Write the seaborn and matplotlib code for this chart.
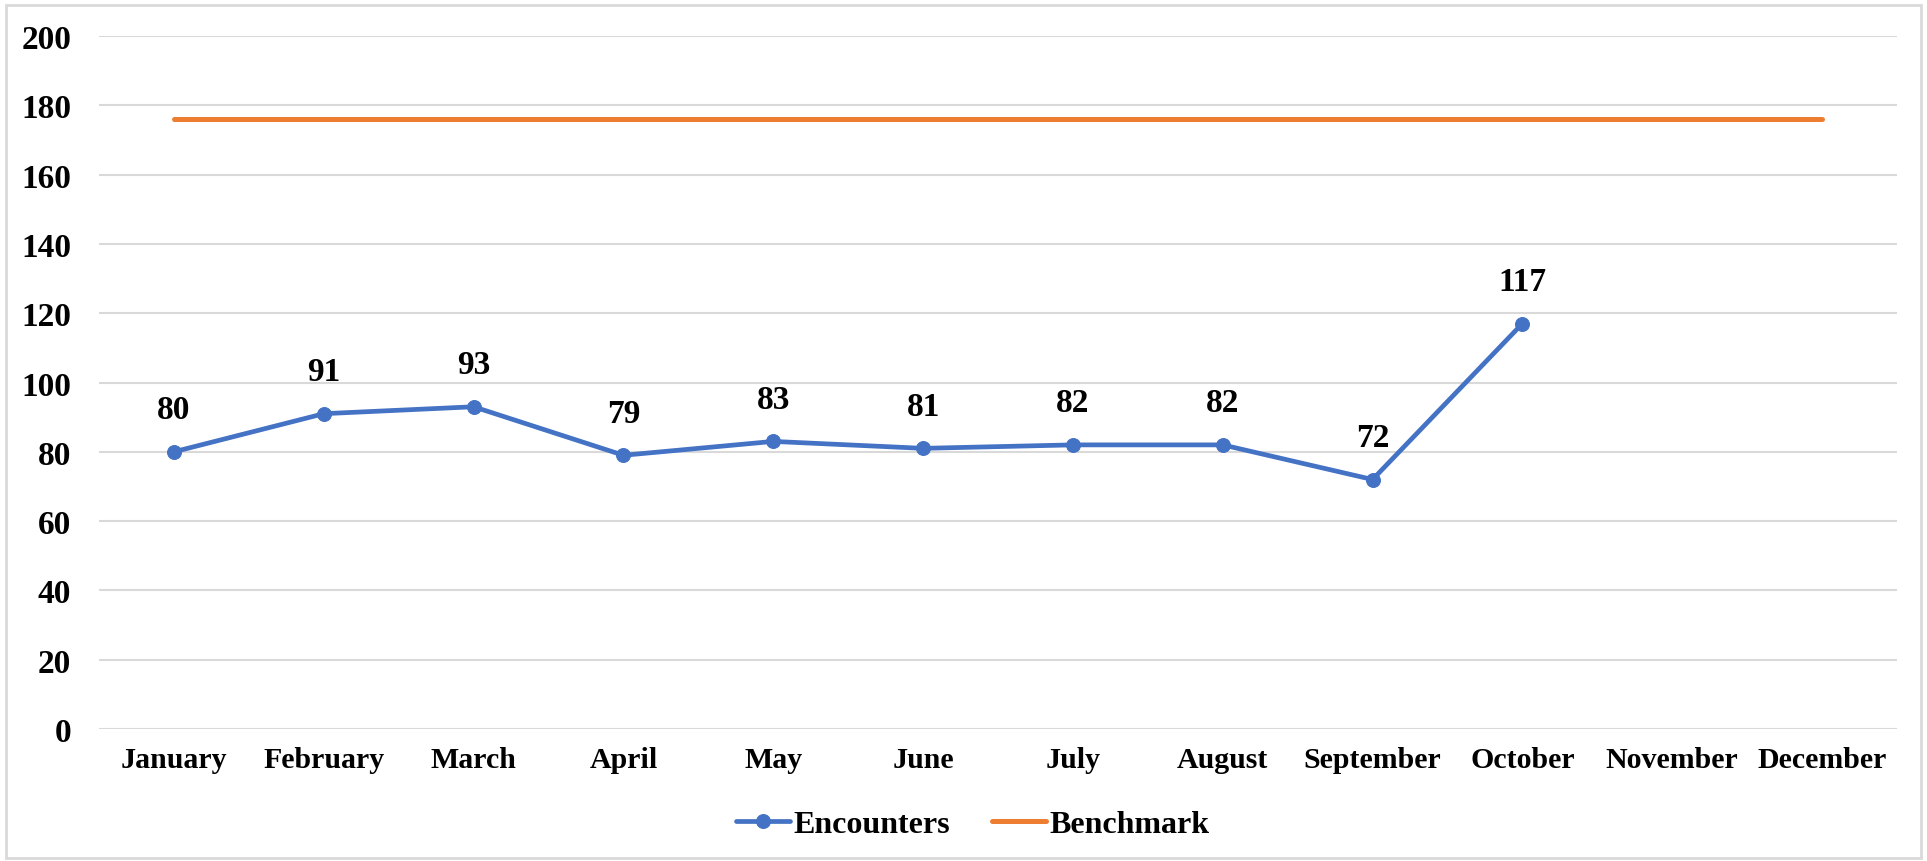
import pandas as pd
import matplotlib.pyplot as plt
import seaborn as sns
from matplotlib.patches import Rectangle

# Chart values
months = ["January", "February", "March", "April", "May", "June",
          "July", "August", "September", "October", "November", "December"]
encounters = [80, 91, 93, 79, 83, 81, 82, 82, 72, 117]
benchmark = [176] * 12

enc_df = pd.DataFrame({"idx": range(len(encounters)), "value": encounters})
bench_df = pd.DataFrame({"idx": range(len(benchmark)), "value": benchmark})

sns.set_style("white")
plt.rcParams['font.family'] = ['Liberation Serif', 'DejaVu Serif']
plt.rcParams['font.weight'] = 'bold'
plt.rcParams['text.color'] = 'black'
plt.rcParams['xtick.color'] = 'black'
plt.rcParams['ytick.color'] = 'black'

fig = plt.figure(figsize=(19.27, 8.62), dpi=100)
ax = fig.add_axes([0.0514, 0.1531, 0.933, 0.804])

blue = "#4472C4"
orange = "#ED7D31"

sns.lineplot(data=enc_df, x="idx", y="value", ax=ax, color=blue, linewidth=3.4,
             marker="o", markersize=10, markeredgecolor=blue, label="Encounters",
             solid_capstyle="round")
sns.lineplot(data=bench_df, x="idx", y="value", ax=ax, color=orange, linewidth=3.6,
             label="Benchmark", solid_capstyle="round")

# Data labels for encounters
for i, v in enumerate(encounters):
    ax.annotate(str(v), (i, v), xytext=(0, 19), textcoords="offset points",
                ha="center", va="bottom", fontsize=24, fontweight="bold")

ax.set_xlim(-0.5, 11.5)
ax.set_ylim(0, 200)
ax.set_yticks(range(0, 201, 20))
ax.set_xticks(range(12))
ax.set_xticklabels(months)
ax.tick_params(axis="x", length=0, labelsize=21.5, pad=12)
ax.tick_params(axis="y", length=0, labelsize=24, pad=20)
ax.set_xlabel("")
ax.set_ylabel("")
ax.grid(axis="y", color="#D9D9D9", linewidth=1.5)
ax.set_axisbelow(True)
for s in ax.spines.values():
    s.set_visible(False)

leg = ax.legend(loc="lower center", bbox_to_anchor=(0.486, -0.2), ncol=2, frameon=False,
                fontsize=23, handlelength=1.7, columnspacing=1.3, handletextpad=0.1)

# light figure border
fig.patches.append(Rectangle((0.003, 0.003), 0.994, 0.99, transform=fig.transFigure,
                             fill=False, edgecolor="#D9D9D9", linewidth=2))

fig.savefig("out.png", dpi=100)
